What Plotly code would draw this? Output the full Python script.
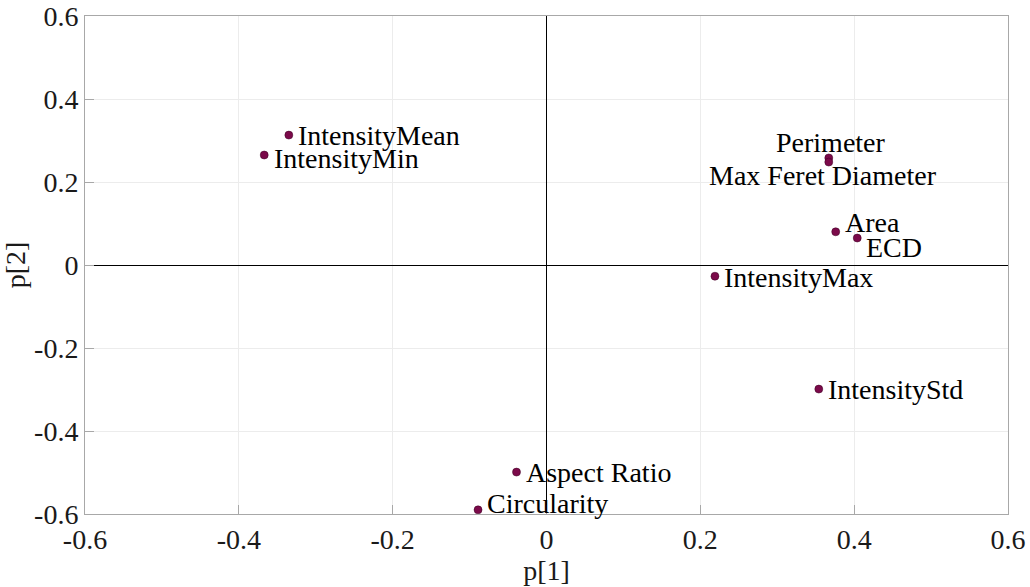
import plotly.graph_objects as go

# PCA loadings: first two components per feature
features = ["IntensityMean", "IntensityMin", "Perimeter", "Max Feret Diameter",
            "Area", "ECD", "IntensityMax", "IntensityStd", "Aspect Ratio", "Circularity"]
p1 = [-0.335, -0.367, 0.367, 0.367, 0.376, 0.404, 0.219, 0.354, -0.039, -0.089]
p2 = [0.313, 0.265, 0.258, 0.248, 0.080, 0.065, -0.027, -0.299, -0.499, -0.590]

# label placement (anchor, pixel shift) for each feature
label_style = [
    ("left", "middle", 7, 0),
    ("left", "middle", 8, -3),
    ("center", "bottom", 2, -2),
    ("center", "bottom", -6, -31),
    ("left", "middle", 7, 9),
    ("left", "middle", 7, -9),
    ("left", "middle", 7, -1),
    ("left", "middle", 7, 0),
    ("left", "middle", 7, 0),
    ("left", "middle", 7, 6),
]

tick_vals = [-0.6, -0.4, -0.2, 0, 0.2, 0.4, 0.6]
tick_text = ["-0.6", "-0.4", "-0.2", "0", "0.2", "0.4", "0.6"]

font = "Liberation Serif, Times New Roman, serif"
FS = 28

fig = go.Figure()
fig.add_trace(go.Scatter(
    x=p1, y=p2, mode="markers",
    marker=dict(color="#7b0a4a", size=8, line=dict(color="#3a0020", width=0.5)),
    cliponaxis=False, showlegend=False, hoverinfo="text", text=features,
))

for name, x, y, (xa, ya, dx, dy) in zip(features, p1, p2, label_style):
    fig.add_annotation(
        x=x, y=y, text=name, showarrow=False, xanchor=xa, yanchor=ya,
        xshift=dx, yshift=dy,
        font=dict(family=font, size=FS, color="#000000"),
    )

axis_common = dict(
    tickmode="array", tickvals=tick_vals, ticktext=tick_text,
    showgrid=True, gridcolor="#ececec", gridwidth=1,
    zeroline=True, zerolinecolor="#000000", zerolinewidth=1,
    showline=True, linecolor="#a8a8a8", linewidth=1, mirror=True,
    ticks="inside", ticklen=9, tickcolor="#a8a8a8",
    tickfont=dict(family=font, size=FS, color="#1a1a1a"),
    title_font=dict(family=font, size=FS, color="#1a1a1a"),
    automargin=False,
)

fig.update_xaxes(range=[-0.6, 0.6], title_text="p[1]", title_standoff=0, **axis_common)
fig.update_yaxes(range=[-0.6, 0.6], title_text="p[2]", title_standoff=0, **axis_common)

fig.update_layout(
    width=1030, height=587,
    margin=dict(l=85, r=22, t=16, b=73),
    plot_bgcolor="white", paper_bgcolor="white",
)

fig.write_html("out.html")
